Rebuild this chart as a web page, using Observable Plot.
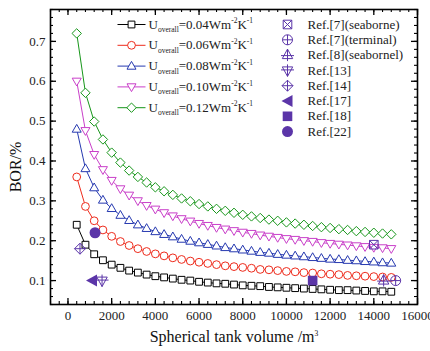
<!DOCTYPE html>
<html>
<head>
<meta charset="utf-8">
<script src="https://cdn.jsdelivr.net/npm/d3@7"></script>
<script src="https://cdn.jsdelivr.net/npm/@observablehq/plot@0.6"></script>
<style>
  body { margin: 0; background: white; }
  #chart { width: 430px; height: 351px; }
  #chart svg text { font-family: 'Liberation Serif', 'Times New Roman', serif; }
</style>
</head>
<body>
<div id="chart"></div>
<script>
// ---------- data ----------
const volumes = [400, 800, 1200, 1600, 2000, 2400, 2800, 3200, 3600, 4000, 4400, 4800, 5200, 5600, 6000, 6400, 6800, 7200, 7600, 8000, 8400, 8800, 9200, 9600, 10000, 10400, 10800, 11200, 11600, 12000, 12400, 12800, 13200, 13600, 14000, 14400, 14800];

const uLabels = ["0.04", "0.06", "0.08", "0.10", "0.12"];

const bor004 = [0.240, 0.190, 0.166, 0.151, 0.140, 0.132, 0.125, 0.120, 0.115, 0.111, 0.108, 0.105, 0.102, 0.100, 0.097, 0.095, 0.093, 0.092, 0.090, 0.088, 0.087, 0.086, 0.084, 0.083, 0.082, 0.081, 0.080, 0.079, 0.078, 0.077, 0.076, 0.076, 0.075, 0.074, 0.073, 0.073, 0.072];
const bor006 = [0.360, 0.286, 0.250, 0.227, 0.211, 0.198, 0.188, 0.180, 0.173, 0.167, 0.162, 0.157, 0.153, 0.149, 0.146, 0.143, 0.140, 0.137, 0.135, 0.133, 0.131, 0.128, 0.127, 0.125, 0.123, 0.122, 0.120, 0.119, 0.117, 0.116, 0.115, 0.113, 0.112, 0.111, 0.110, 0.109, 0.108];
const bor008 = [0.480, 0.381, 0.333, 0.302, 0.281, 0.264, 0.251, 0.240, 0.231, 0.223, 0.216, 0.210, 0.204, 0.199, 0.195, 0.191, 0.187, 0.183, 0.180, 0.177, 0.174, 0.171, 0.169, 0.166, 0.164, 0.162, 0.160, 0.158, 0.156, 0.154, 0.153, 0.151, 0.150, 0.148, 0.147, 0.145, 0.144];
const bor010 = [0.600, 0.476, 0.416, 0.378, 0.351, 0.330, 0.314, 0.300, 0.288, 0.279, 0.270, 0.262, 0.255, 0.249, 0.243, 0.238, 0.233, 0.229, 0.225, 0.221, 0.218, 0.214, 0.211, 0.208, 0.205, 0.203, 0.200, 0.198, 0.195, 0.193, 0.191, 0.189, 0.187, 0.185, 0.183, 0.182, 0.180];
const bor012 = [0.720, 0.571, 0.499, 0.454, 0.421, 0.396, 0.376, 0.360, 0.346, 0.334, 0.324, 0.315, 0.306, 0.299, 0.292, 0.286, 0.280, 0.275, 0.270, 0.265, 0.261, 0.257, 0.253, 0.250, 0.246, 0.243, 0.240, 0.237, 0.234, 0.232, 0.229, 0.227, 0.224, 0.222, 0.220, 0.218, 0.216];

const refNames = ["Ref.[7](seaborne)", "Ref.[7](terminal)", "Ref.[8](seabornel)", "Ref.[13]", "Ref.[14]", "Ref.[17]", "Ref.[18]", "Ref.[22]"];
const refX = [14000, 15000, 14450, 1560, 550, 1100, 11200, 1240];
const refY = [0.19, 0.10, 0.10, 0.10, 0.18, 0.10, 0.10, 0.22];

const xMajor = [0, 2000, 4000, 6000, 8000, 10000, 12000, 14000, 16000];
const yMajor = [0.1, 0.2, 0.3, 0.4, 0.5, 0.6, 0.7];

// ---------- styling ----------
const seriesColors = ["#000000", "#ee2b1c", "#2639b0", "#c93fc9", "#17961a"];
const refColor = "#5b35a8";
const FONT = "'Liberation Serif', 'Times New Roman', serif";

const sym = f => ({draw(ctx) { f(ctx); }});
const seriesSymbols = [
  sym(c => { c.rect(-3.4, -3.4, 6.8, 6.8); }),
  sym(c => { c.moveTo(3.9, 0); c.arc(0, 0, 3.9, 0, 2 * Math.PI); }),
  sym(c => { c.moveTo(0, -4.7); c.lineTo(4.5, 3.1); c.lineTo(-4.5, 3.1); c.closePath(); }),
  sym(c => { c.moveTo(0, 4.7); c.lineTo(4.5, -3.1); c.lineTo(-4.5, -3.1); c.closePath(); }),
  sym(c => { c.moveTo(0, -4.7); c.lineTo(4.7, 0); c.lineTo(0, 4.7); c.lineTo(-4.7, 0); c.closePath(); })
];
const refSymbols = [
  sym(c => { c.rect(-4.3, -4.3, 8.6, 8.6); c.moveTo(-4.3, -4.3); c.lineTo(4.3, 4.3); c.moveTo(4.3, -4.3); c.lineTo(-4.3, 4.3); }),
  sym(c => { c.moveTo(5, 0); c.arc(0, 0, 5, 0, 2 * Math.PI); c.moveTo(-5, 0); c.lineTo(5, 0); c.moveTo(0, -5); c.lineTo(0, 5); }),
  sym(c => { c.moveTo(0, -6); c.lineTo(5.2, 3.5); c.lineTo(-5.2, 3.5); c.closePath(); c.moveTo(-6.5, 0.5); c.lineTo(6.5, 0.5); c.moveTo(0, -6); c.lineTo(0, 6); }),
  sym(c => { c.moveTo(0, 6); c.lineTo(5.2, -3.5); c.lineTo(-5.2, -3.5); c.closePath(); c.moveTo(-6.5, -0.5); c.lineTo(6.5, -0.5); c.moveTo(0, 6); c.lineTo(0, -6); }),
  sym(c => { c.moveTo(0, -5.5); c.lineTo(5.5, 0); c.lineTo(0, 5.5); c.lineTo(-5.5, 0); c.closePath(); c.moveTo(-5.5, 0); c.lineTo(5.5, 0); c.moveTo(0, -5.5); c.lineTo(0, 5.5); }),
  sym(c => { c.moveTo(-6, 0); c.lineTo(5, -6); c.lineTo(5, 6); c.closePath(); }),
  sym(c => { c.rect(-4.8, -4.8, 9.6, 9.6); }),
  sym(c => { c.moveTo(5.5, 0); c.arc(0, 0, 5.5, 0, 2 * Math.PI); })
];
const refFilled = [false, false, false, false, false, true, true, true];
const legendLine = sym(c => { c.moveTo(-14, 0); c.lineTo(14, 0); });

// ---------- tidy tables ----------
const seriesArrays = [bor004, bor006, bor008, bor010, bor012];
const series = seriesArrays.map((arr, k) => arr.map((v, i) => ({x: volumes[i], y: v, k})));
const refs = refNames.map((name, i) => ({name, x: refX[i], y: refY[i], i}));

const xMinor = d3.range(-800, 16001, 400);
const yMinor = d3.range(4, 79, 2).map(v => v / 100);

const W = 430, H = 351, ML = 50, MR = 13, MT = 9, MB = 47;
const FW = W - ML - MR, FH = H - MT - MB;

const marks = [];

// series lines and markers
series.forEach((s, k) => {
  marks.push(Plot.line(s, {x: "x", y: "y", stroke: seriesColors[k], strokeWidth: 1}));
  marks.push(Plot.dot(s, {x: "x", y: "y", symbol: seriesSymbols[k], r: 4, stroke: seriesColors[k], fill: "white", strokeWidth: 1}));
});

// reference points
refs.forEach((d, i) => {
  marks.push(Plot.dot([d], {x: "x", y: "y", symbol: refSymbols[i], r: 5,
    stroke: refFilled[i] ? "none" : refColor, fill: refFilled[i] ? refColor : "none", strokeWidth: 1}));
});

// legend 1 (series)
uLabels.forEach((u, k) => {
  const dy = 15 + 20.8 * k;
  marks.push(Plot.dot([0], {frameAnchor: "top-left", dx: 81, dy, symbol: legendLine, r: 4, stroke: seriesColors[k], fill: "none", strokeWidth: 1}));
  marks.push(Plot.dot([0], {frameAnchor: "top-left", dx: 81, dy, symbol: seriesSymbols[k], r: 4, stroke: seriesColors[k], fill: "white", strokeWidth: 1}));
  marks.push(Plot.text([`U_{overall}=${u}Wm^{-2}K^{-1}`], {frameAnchor: "top-left", dx: 98, dy, text: d => d, textAnchor: "start", lineAnchor: "middle", fontSize: 13, fontFamily: FONT, fill: "#222"}));
});

// legend 2 (references)
refNames.forEach((name, i) => {
  const dy = 15 + 15.3 * i;
  marks.push(Plot.dot([0], {frameAnchor: "top-left", dx: 237, dy, symbol: refSymbols[i], r: 5,
    stroke: refFilled[i] ? "none" : refColor, fill: refFilled[i] ? refColor : "none", strokeWidth: 1}));
  marks.push(Plot.text([name], {frameAnchor: "top-left", dx: 257, dy, text: d => d, textAnchor: "start", lineAnchor: "middle", fontSize: 13, fontFamily: FONT, fill: "#222"}));
});

// frame and inward ticks on all four sides
marks.push(Plot.frame({stroke: "black", strokeWidth: 1.6}));
marks.push(Plot.ruleX(xMajor, {x: d => d, insetTop: FH - 6, stroke: "black", strokeWidth: 1.3}));
marks.push(Plot.ruleX(xMinor, {x: d => d, insetTop: FH - 3, stroke: "black", strokeWidth: 1.1}));
marks.push(Plot.ruleX(xMajor, {x: d => d, insetBottom: FH - 6, stroke: "black", strokeWidth: 1.3}));
marks.push(Plot.ruleX(xMinor, {x: d => d, insetBottom: FH - 3, stroke: "black", strokeWidth: 1.1}));
marks.push(Plot.ruleY(yMajor, {y: d => d, insetRight: FW - 6, stroke: "black", strokeWidth: 1.3}));
marks.push(Plot.ruleY(yMinor, {y: d => d, insetRight: FW - 3, stroke: "black", strokeWidth: 1.1}));
marks.push(Plot.ruleY(yMajor, {y: d => d, insetLeft: FW - 6, stroke: "black", strokeWidth: 1.3}));
marks.push(Plot.ruleY(yMinor, {y: d => d, insetLeft: FW - 3, stroke: "black", strokeWidth: 1.1}));

// tick labels
marks.push(Plot.axisX(xMajor, {tickSize: 0, tickPadding: 6, label: null, tickFormat: d => String(d), fontSize: 13, fill: "#222"}));
marks.push(Plot.axisY(yMajor, {tickSize: 0, tickPadding: 5, label: null, tickFormat: d3.format(".1f"), fontSize: 13, fill: "#222"}));

// axis titles
marks.push(Plot.text(["Spherical tank volume /m^{3}"], {frameAnchor: "bottom", dy: 32, text: d => d, textAnchor: "middle", lineAnchor: "middle", fontSize: 16, fontFamily: FONT, fill: "#111"}));
marks.push(Plot.text(["BOR/%"], {frameAnchor: "left", dx: -35, dy: 10, rotate: -90, text: d => d, textAnchor: "middle", lineAnchor: "middle", fontSize: 16, fontFamily: FONT, fill: "#111"}));

const chart = Plot.plot({
  width: W, height: H,
  marginLeft: ML, marginRight: MR, marginTop: MT, marginBottom: MB,
  x: {domain: [-800, 16000], axis: null},
  y: {domain: [0.04, 0.78], axis: null},
  style: {fontFamily: FONT, fontSize: "13px", background: "white", color: "#111", overflow: "visible"},
  marks
});

// serif font everywhere (tick labels included)
d3.select(chart).selectAll("text").attr("font-family", FONT).style("font-family", FONT);
d3.select(chart).selectAll("g[aria-label]").style("font-family", FONT);

// rich text: _{sub} and ^{sup}
d3.select(chart).selectAll("text").each(function() {
  const s = this.textContent;
  if (!/[_^]\{/.test(s)) return;
  const size = parseFloat(this.getAttribute("font-size")) || parseFloat(getComputedStyle(this).fontSize) || 13;
  const small = Math.round(size * 0.58 * 10) / 10;
  this.textContent = "";
  const re = /([_^])\{([^}]*)\}|([^_^]+)/g;
  let m, cur = 0;
  while ((m = re.exec(s))) {
    const t = document.createElementNS("http://www.w3.org/2000/svg", "tspan");
    let target = 0;
    if (m[1] === "_") { target = size * 0.25; t.setAttribute("font-size", small); t.textContent = m[2]; }
    else if (m[1] === "^") { target = -size * 0.42; t.setAttribute("font-size", small); t.textContent = m[2]; }
    else { t.textContent = m[3]; }
    if (target !== cur) t.setAttribute("dy", (target - cur).toFixed(2));
    cur = target;
    this.appendChild(t);
  }
});

document.getElementById("chart").appendChild(chart);
</script>
</body>
</html>
